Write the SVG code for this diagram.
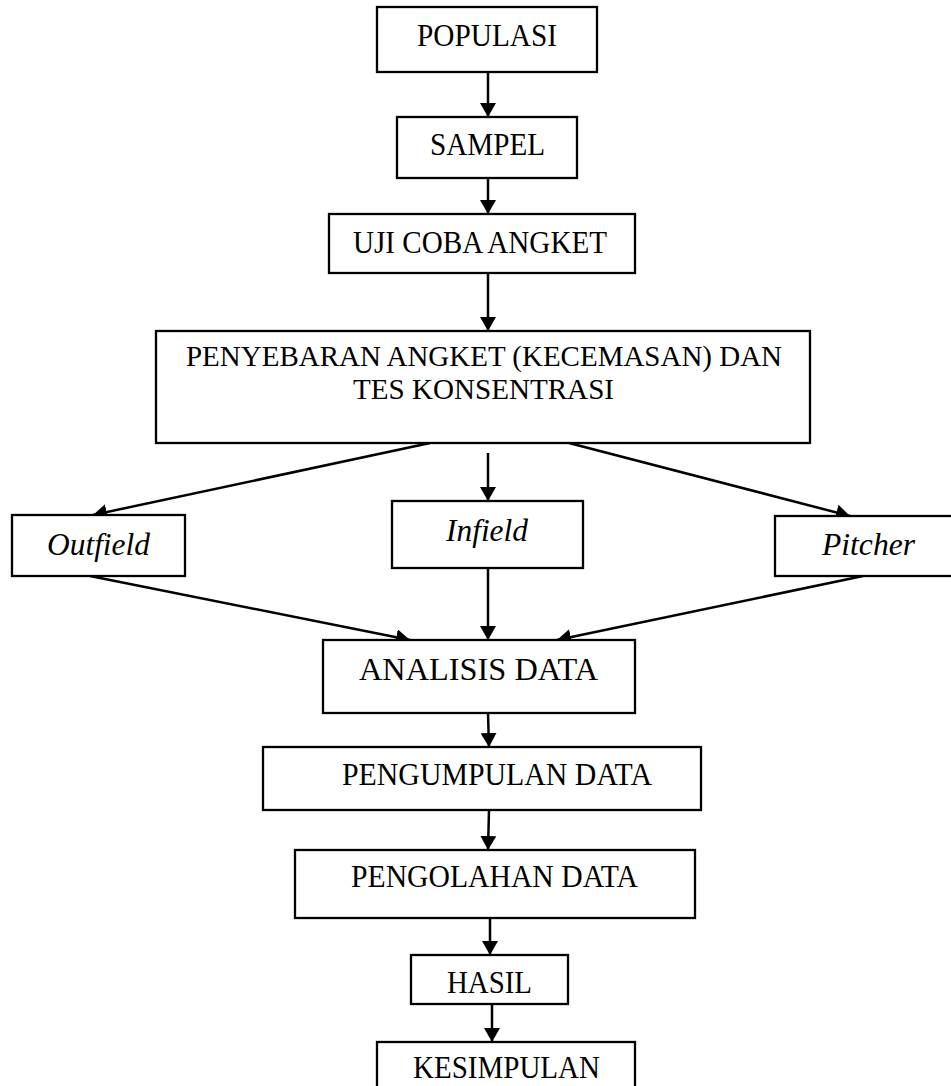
<svg xmlns="http://www.w3.org/2000/svg" width="951" height="1086" viewBox="0 0 951 1086">
<style>
.box{fill:#fff;stroke:#000;stroke-width:2.3}
.t{font-family:"Liberation Serif","Times New Roman",serif;font-size:31px;fill:#000;text-anchor:middle}
.i{font-style:italic;font-size:32px}
.s{font-size:29px}
.c{stroke:#000;stroke-width:2.5;fill:none;marker-end:url(#ah)}
</style>
<defs>
<marker id="ah" viewBox="0 0 14 16" refX="14" refY="8" markerWidth="14" markerHeight="16" markerUnits="userSpaceOnUse" orient="auto">
<path d="M0,0 L14,8 L0,16 z" fill="#000"/>
</marker>
</defs>
<rect width="951" height="1086" fill="#fff"/>
<g id="connectors">
<line class="c" x1="488" y1="72" x2="488" y2="117"/>
<line class="c" x1="488" y1="178" x2="488" y2="214"/>
<line class="c" x1="488" y1="273" x2="488" y2="331"/>
<line class="c" x1="430" y1="443" x2="93" y2="515"/>
<line class="c" x1="488" y1="453" x2="488" y2="501"/>
<line class="c" x1="569" y1="443" x2="850" y2="516"/>
<line class="c" x1="90" y1="576" x2="410" y2="640"/>
<line class="c" x1="488" y1="568" x2="488" y2="640"/>
<line class="c" x1="863" y1="576" x2="557" y2="640"/>
<line class="c" x1="488" y1="713" x2="489" y2="747"/>
<line class="c" x1="489" y1="810" x2="488" y2="850"/>
<line class="c" x1="490" y1="918" x2="490" y2="955"/>
<line class="c" x1="492" y1="1004" x2="492" y2="1042"/>
</g>
<g id="populasi"><rect class="box" x="377" y="7" width="220" height="65"/><text class="t" x="487" y="46" textLength="140" lengthAdjust="spacingAndGlyphs">POPULASI</text></g>
<g id="sampel"><rect class="box" x="397" y="117" width="180" height="61"/><text class="t" x="487.5" y="155" textLength="115" lengthAdjust="spacingAndGlyphs">SAMPEL</text></g>
<g id="uji-coba"><rect class="box" x="329" y="214" width="306" height="59"/><text class="t" x="480" y="253" textLength="254" lengthAdjust="spacingAndGlyphs">UJI COBA ANGKET</text></g>
<g id="penyebaran"><rect class="box" x="156" y="331" width="654" height="112"/><text class="t s" x="484" y="366" textLength="596" lengthAdjust="spacingAndGlyphs">PENYEBARAN ANGKET (KECEMASAN) DAN</text><text class="t s" x="483.5" y="399" textLength="261" lengthAdjust="spacingAndGlyphs">TES KONSENTRASI</text></g>
<g id="outfield"><rect class="box" x="12" y="515" width="173" height="61"/><text class="t i" x="98.5" y="555" textLength="103" lengthAdjust="spacingAndGlyphs">Outfield</text></g>
<g id="infield"><rect class="box" x="392" y="501" width="191" height="67"/><text class="t i" x="487" y="541" textLength="82" lengthAdjust="spacingAndGlyphs">Infield</text></g>
<g id="pitcher"><rect class="box" x="775" y="516" width="190" height="60"/><text class="t i" x="868.5" y="555" textLength="93" lengthAdjust="spacingAndGlyphs">Pitcher</text></g>
<g id="analisis"><rect class="box" x="323" y="640" width="312" height="73"/><text class="t" x="478.5" y="680" textLength="239" lengthAdjust="spacingAndGlyphs">ANALISIS DATA</text></g>
<g id="pengumpulan"><rect class="box" x="263" y="747" width="438" height="63"/><text class="t" x="497" y="785" textLength="310" lengthAdjust="spacingAndGlyphs">PENGUMPULAN DATA</text></g>
<g id="pengolahan"><rect class="box" x="295" y="850" width="400" height="68"/><text class="t" x="494.5" y="887" textLength="287" lengthAdjust="spacingAndGlyphs">PENGOLAHAN DATA</text></g>
<g id="hasil"><rect class="box" x="411" y="955" width="157" height="49"/><text class="t" x="489.5" y="993" textLength="85" lengthAdjust="spacingAndGlyphs">HASIL</text></g>
<g id="kesimpulan"><rect class="box" x="377" y="1042" width="258" height="60"/><text class="t" x="506.5" y="1078" textLength="187" lengthAdjust="spacingAndGlyphs">KESIMPULAN</text></g>
</svg>
